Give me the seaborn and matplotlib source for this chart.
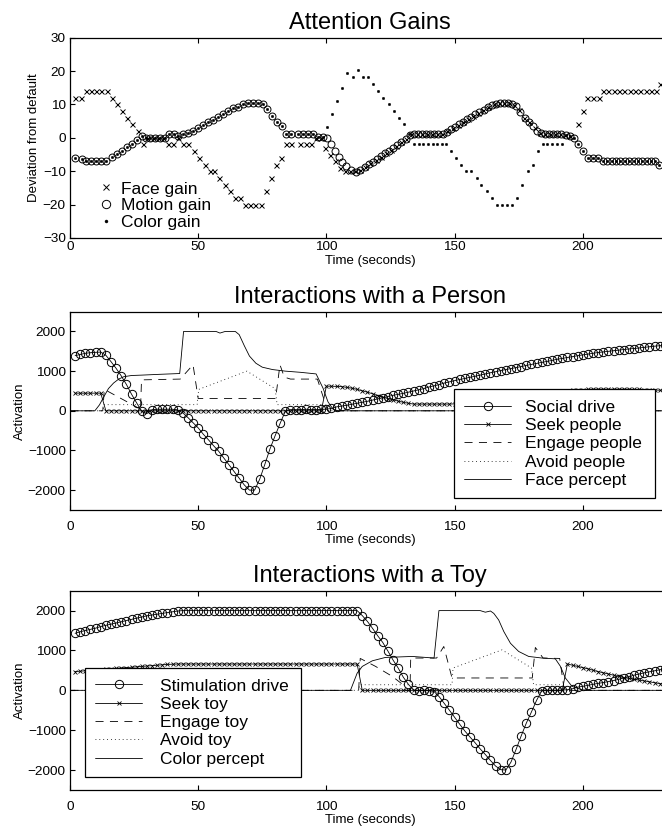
import matplotlib
matplotlib.use("Agg")
import matplotlib.pyplot as plt
import seaborn as sns

# ---------------- Attention gains (markers only) ----------------
face_t = [2.0, 4.3, 6.2, 8.2, 10.2, 12.2, 14.3, 16.4, 18.2, 20.1,
          22.3, 24.3, 26.4, 28.3, 30.2, 32.2, 34.2, 36.2, 38.3, 40.3,
          42.2, 44.2, 46.1, 48.3, 50.4, 52.6, 54.5, 56.1, 58.2, 60.4,
          62.3, 64.5, 66.5, 68.2, 70.2, 72.2, 74.4, 76.4, 78.3, 80.3,
          82.2, 84.4, 86.3, 89.6, 91.9, 93.9, 96.0, 97.9, 99.4, 101.3,
          103.3, 105.2, 107.2, 109.2, 111.2, 113.2, 115.2, 117.2, 119.2, 121.2,
          123.2, 125.2, 127.2, 129.2, 131.2, 133.2, 135.2, 137.2, 139.2, 141.2,
          143.2, 145.2, 147.2, 149.2, 151.2, 153.2, 155.2, 157.2, 159.2, 161.2,
          163.2, 165.2, 167.2, 169.2, 171.2, 173.2, 175.2, 177.2, 179.2, 181.2,
          183.2, 185.2, 187.2, 189.2, 191.2, 193.2, 195.2, 198.1, 200.1, 201.6,
          203.9, 206.2, 208.0, 210.0, 212.0, 214.2, 216.2, 218.3, 220.4, 222.5,
          224.5, 226.6, 228.6, 230.1]
face_v = [12, 12, 14, 14, 14, 14, 14, 12, 10, 8,
          6, 4, 2, -2, 0, 0, 0, 0, -2, -2,
          0, -2, -2, -4, -6, -8, -10, -10, -12, -14,
          -16, -18, -18, -20, -20, -20, -20, -16, -12, -8,
          -6, -2, -2, -2, -2, -2, 0, 0, -3, -5,
          -7, -9, -10, -10, -10, -9.6, -8.8, -7.6, -6.6, -5.6,
          -4.6, -3.6, -2.4, -1.4, -0.3, 1, 1.2, 1.2, 1.2, 1.2,
          1.2, 1.2, 2, 2.9, 3.8, 4.7, 5.6, 6.5, 7.4, 8.3,
          9.2, 10, 10.4, 10.4, 10.4, 9.9, 8.2, 6, 4.6, 2.8,
          1.4, 1.2, 1.2, 1.2, 1.2, 0.8, 0.4, 4, 8, 12,
          12, 12, 14, 14, 14, 14, 14, 14, 14, 14,
          14, 14, 14, 16]

motion_t = [1.9, 4.5, 6.2, 8.2, 10.1, 12.1, 14.0, 16.2, 18.2, 20.1,
            22.1, 24.0, 26.0, 27.9, 29.5, 31.4, 33.3, 35.2, 37.0, 38.6,
            40.4, 42.2, 44.2, 46.1, 48.0, 50.0, 52.0, 53.9, 55.8, 57.8,
            59.7, 61.7, 63.6, 65.6, 67.6, 69.5, 71.5, 73.4, 75.3, 77.0,
            78.8, 80.6, 82.5, 84.4, 86.3, 88.8, 90.8, 92.8, 94.8, 96.8,
            98.7, 100.4, 102.0, 103.4, 104.8, 106.2, 107.8, 109.8, 111.7, 113.3,
            114.9, 116.5, 118.1, 119.7, 121.3, 122.9, 124.5, 126.1, 127.7, 129.3,
            130.9, 132.5, 134.1, 135.7, 137.3, 138.9, 140.5, 142.1, 143.7, 145.3,
            146.9, 148.5, 150.1, 151.7, 153.3, 154.9, 156.5, 158.1, 159.7, 161.3,
            162.9, 164.5, 166.1, 167.7, 169.3, 170.9, 172.5, 174.1, 175.7, 177.3,
            178.9, 180.5, 182.1, 183.7, 185.3, 186.9, 188.5, 190.1, 191.7, 193.3,
            194.9, 196.5, 198.1, 200.1, 202.0, 204.0, 205.9, 207.9, 209.6, 211.3,
            213.0, 214.7, 216.4, 218.1, 219.8, 221.5, 223.2, 224.9, 226.6, 228.3,
            229.9]
motion_v = [-6, -6.3, -7, -7, -7, -7, -6.8, -5.8, -4.8, -3.8,
            -2.8, -1.8, -0.8, 0.5, 0, 0, 0, 0, 0, 1,
            1, 0.5, 1, 1.3, 2, 3, 3.8, 4.7, 5.4, 6.2,
            7, 8, 9, 9.3, 10.2, 10.3, 10.3, 10.3, 10.1, 8.5,
            6.6, 4.7, 3.4, 1.2, 1, 1, 1, 1, 1, 0.3,
            0.3, 0, -2, -4, -5.6, -7.2, -8.5, -9.5, -10.3, -9.5,
            -8.7, -7.9, -7.1, -6.3, -5.4, -4.6, -3.8, -3.0, -2.2, -1.3,
            -0.5, 0.7, 1.2, 1.2, 1.2, 1.2, 1.2, 1.2, 1.2, 1.2,
            1.8, 2.5, 3.3, 4.0, 4.8, 5.5, 6.2, 7.0, 7.6, 8.4,
            9.1, 9.8, 10.2, 10.4, 10.4, 10.4, 10.2, 9.4, 7.8, 6.0,
            4.8, 3.6, 2.0, 1.3, 1.2, 1.2, 1.2, 1.2, 1.2, 0.8,
            0.5, 0, -2, -4, -6, -6, -6, -7, -7, -7,
            -7, -7, -7, -7, -7, -7, -7, -7, -7, -7,
            -8]

color_t = [1.9, 4.5, 6.2, 8.2, 10.1, 12.1, 14.0, 16.2, 18.2, 20.1,
           22.1, 24.0, 26.0, 27.9, 29.5, 31.4, 33.3, 35.2, 37.0, 38.6,
           40.4, 42.2, 44.2, 46.1, 48.0, 50.0, 52.0, 53.9, 55.8, 57.8,
           59.7, 61.7, 63.6, 65.6, 67.6, 69.5, 71.5, 73.4, 75.3, 77.0,
           78.8, 80.6, 82.5, 84.4, 86.3, 88.8, 90.8, 92.8, 94.8, 96.8,
           98.7, 100.3, 102.1, 104.1, 106.1, 108.2, 110.3, 112.3, 114.3, 116.3,
           118.2, 120.2, 122.1, 124.3, 126.3, 128.3, 130.3, 132.3, 134.2, 136.0,
           137.8, 139.6, 141.4, 143.2, 145.0, 146.8, 148.5, 150.4, 152.4, 154.5,
           156.6, 158.6, 160.5, 162.6, 164.6, 166.5, 168.5, 170.5, 172.5, 174.4,
           176.4, 178.5, 180.4, 182.4, 184.3, 186.2, 188.1, 190.0, 191.9, 193.3,
           194.9, 196.5, 198.1, 200.1, 202.0, 204.0, 205.9, 207.9, 209.6, 211.3,
           213.0, 214.7, 216.4, 218.1, 219.8, 221.5, 223.2, 224.9, 226.6, 228.3,
           229.9]
color_v = [-6, -6.3, -7, -7, -7, -7, -6.8, -5.8, -4.8, -3.8,
           -2.8, -1.8, -0.8, 0.5, 0, 0, 0, 0, 0, 1,
           1, 0.5, 1, 1.3, 2, 3, 3.8, 4.7, 5.4, 6.2,
           7, 8, 9, 9.3, 10.2, 10.3, 10.3, 10.3, 10.1, 8.5,
           6.6, 4.7, 3.4, 1.2, 1, 1, 1, 1, 1, 0.3,
           0.3, 3.3, 7, 11, 15, 19.5, 18.3, 20.3, 18.3, 18.3,
           16, 14, 12, 10, 8, 6, 4, 1, -2, -2,
           -2, -2, -2, -2, -2, -2, -4, -6, -8, -10,
           -10, -12, -14, -16, -18, -20, -20, -20, -20, -18,
           -14, -10, -8, -4, -2, -2, -2, -2, -2, 0.8,
           0.5, 0, -2, -4, -6, -6, -6, -7, -7, -7,
           -7, -7, -7, -7, -7, -7, -7, -7, -7, -7,
           -8]

# ---------------- sample clock of the behaviour traces ----------------
clock = [2, 4, 6, 8, 10, 12, 14, 16, 18, 20, 22, 24, 26, 28, 30, 32, 34, 36, 38, 40,
         42, 44, 46, 48, 50, 52, 54, 56, 58, 60, 62, 64, 66, 68, 70, 72, 74, 76, 78, 80,
         82, 84, 86, 88, 90, 92, 94, 96, 98, 100, 102, 104, 106, 108, 110, 112, 114, 116, 118, 120,
         122, 124, 126, 128, 130, 132, 134, 136, 138, 140, 142, 144, 146, 148, 150, 152, 154, 156, 158, 160,
         162, 164, 166, 168, 170, 172, 174, 176, 178, 180, 182, 184, 186, 188, 190, 192, 194, 196, 198, 200,
         202, 204, 206, 208, 210, 212, 214, 216, 218, 220, 222, 224, 226, 228, 230, 232, 234]

# ---------------- Interactions with a person ----------------
social_drive = [1390, 1420, 1450, 1465, 1475, 1480, 1400, 1240, 1070, 880,
                665, 420, 200, -15, -70, 30, 40, 40, 40, 40,
                20, -50, -170, -300, -430, -590, -730, -880, -1020, -1190,
                -1360, -1530, -1700, -1870, -2000, -2000, -1725, -1350, -960, -630,
                -310, -10, 30, 30, 30, 40, 30, 30, 40, 40,
                60, 100, 120, 140, 165, 190, 215, 240, 270, 300,
                330, 360, 390, 415, 440, 470, 500, 530, 560, 600,
                630, 660, 700, 730, 760, 790, 815, 845, 870, 900,
                930, 960, 985, 1015, 1040, 1065, 1090, 1115, 1145, 1170,
                1195, 1220, 1245, 1270, 1300, 1320, 1345, 1365, 1390, 1410,
                1430, 1450, 1470, 1485, 1500, 1515, 1530, 1545, 1560, 1570,
                1585, 1600, 1615, 1630, 1640, 1650, 1660]
seek_people = [445, 445, 445, 445, 445, 445, 0, 0, 0, 0,
               0, 0, 0, 0, 0, 0, 0, 0, 0, 0,
               0, 0, 0, 0, 0, 0, 0, 0, 0, 0,
               0, 0, 0, 0, 0, 0, 0, 0, 0, 0,
               0, 0, 0, 0, 0, 0, 0, 0, 0, 620,
               620, 615, 610, 590, 570, 540, 505, 470, 430, 385,
               345, 310, 275, 245, 215, 190, 170, 170, 170, 170,
               170, 170, 170, 170, 175, 180, 190, 200, 210, 220,
               235, 250, 265, 280, 300, 320, 340, 360, 380, 400,
               420, 440, 455, 470, 485, 500, 510, 520, 530, 535,
               540, 545, 545, 545, 545, 545, 545, 545, 545, 540,
               540, 535, 530, 525, 520, 520, 520]
engage_people_t = [0, 12.8, 13.4, 27.0, 27.5, 27.9, 43.0, 48.0, 50.0, 80.2,
                   81.9, 83.6, 86.0, 96.5, 100.5, 234]
engage_people_v = [0, 0, 540, 60, 0, 780, 800, 1160, 310, 310,
                   1160, 850, 800, 800, 0, 0]
avoid_people_t = [0, 12.8, 13.3, 49.6, 50.2, 69.0, 80.0, 80.8, 99.0, 99.8, 234]
avoid_people_v = [0, 0, 155, 155, 540, 1000, 560, 155, 155, 0, 0]
face_percept_t = [0, 9.7, 11.5, 13.0, 15.0, 17.0, 19.0, 21.0, 24.0, 28.0,
                  35.0, 42.8, 44.3, 57.0, 58.5, 60.5, 64.5, 66.0, 68.0, 70.0,
                  72.5, 75.0, 79.0, 84.0, 90.0, 96.0, 98.7, 100.6, 102.6, 104.5,
                  234]
face_percept_v = [0, 0, 150, 330, 560, 700, 800, 860, 890, 900,
                  920, 940, 2000, 2000, 1960, 2000, 2000, 1920, 1640, 1380,
                  1200, 1100, 1040, 1000, 970, 930, 570, 230, 40, 0,
                  0]

# ---------------- Interactions with a toy ----------------
stim_drive = [1430, 1470, 1500, 1530, 1560, 1600, 1630, 1660, 1690, 1720,
              1750, 1780, 1810, 1840, 1870, 1890, 1910, 1930, 1950, 1970,
              1990, 2000, 2000, 2000, 2000, 2000, 2000, 2000, 2000, 2000,
              2000, 2000, 2000, 2000, 2000, 2000, 2000, 2000, 2000, 2000,
              2000, 2000, 2000, 2000, 2000, 2000, 2000, 2000, 2000, 2000,
              2000, 2000, 2000, 2000, 2000, 2000, 1875, 1730, 1555, 1370,
              1200, 985, 760, 560, 330, 150, 5, -10, 0, -5,
              -30, -160, -330, -500, -675, -850, -1020, -1170, -1315, -1470,
              -1610, -1760, -1900, -1990, -2000, -1800, -1480, -1140, -820, -540,
              -250, -10, 0, 0, 0, 5, 15, 40, 80, 100,
              125, 150, 175, 195, 220, 245, 275, 310, 345, 380,
              410, 440, 465, 490, 515, 535, 555]
seek_toy = [470, 480, 490, 500, 510, 520, 530, 540, 550, 560,
            570, 580, 590, 600, 610, 620, 630, 640, 650, 655,
            660, 660, 660, 660, 660, 660, 660, 660, 660, 660,
            660, 660, 660, 660, 660, 660, 660, 660, 660, 660,
            660, 660, 660, 660, 660, 660, 660, 660, 660, 660,
            660, 660, 660, 660, 660, 660, 0, 0, 0, 0,
            0, 0, 0, 0, 0, 0, 0, 0, 0, 0,
            0, 0, 0, 0, 0, 0, 0, 0, 0, 0,
            0, 0, 0, 0, 0, 0, 0, 0, 0, 0,
            0, 0, 0, 0, 0, 0, 660, 630, 600, 570,
            540, 505, 470, 440, 410, 380, 350, 320, 300, 280,
            255, 235, 215, 190, 170, 150, 135]
engage_toy_t = [0, 112.6, 113.2, 119.2, 125.7, 130.3, 130.8, 132.6, 132.9, 143.0,
                145.8, 149.0, 180.3, 181.5, 183.2, 184.5, 191.0, 192.8, 234]
engage_toy_v = [0, 0, 800, 600, 350, 120, 0, 0, 810, 810,
                1100, 310, 310, 1075, 930, 810, 800, 0, 0]
avoid_toy_t = [0, 112.6, 113.0, 149.0, 149.4, 168.5, 180.0, 180.8, 192.5, 193.2, 234]
avoid_toy_v = [0, 0, 140, 140, 560, 1015, 560, 140, 140, 0, 0]
color_percept_t = [0, 109.4, 112.0, 114.0, 117.9, 123.0, 133.5, 142.0, 143.9, 160.0,
                   162.0, 164.0, 165.3, 167.2, 169.2, 171.8, 175.0, 178.9, 184.1, 189.3,
                   191.3, 193.2, 195.8, 199.7, 202.0, 234]
color_percept_v = [0, 0, 430, 600, 740, 825, 850, 810, 2000, 2000,
                   1960, 1990, 1930, 1765, 1475, 1180, 975, 850, 810, 790,
                   600, 310, 100, 15, 0, 0]

time_ticks = [0, 50, 100, 150, 200]
gain_ticks = [-30, -20, -10, 0, 10, 20, 30]
act_ticks = [-2000, -1000, 0, 1000, 2000]

sns.set_style("ticks")
plt.rcParams['font.family'] = ['Liberation Sans', 'DejaVu Sans']
plt.rcParams['lines.scale_dashes'] = False
for key in ['text.color', 'axes.labelcolor', 'xtick.color', 'ytick.color', 'axes.edgecolor']:
    plt.rcParams[key] = 'k'

fig = plt.figure(figsize=(6.62, 8.26), dpi=100)
ax1 = fig.add_axes([0.1057, 0.7119, 0.9063, 0.2425])
ax2 = fig.add_axes([0.1057, 0.3826, 0.9063, 0.2401])
ax3 = fig.add_axes([0.1057, 0.0436, 0.9063, 0.2413])

LW = 0.6
dash = (0, (5.8, 4.6))
dot = (0, (0.6, 2.2))


def trace(ax, t, v, label, **kw):
    sns.lineplot(x=t, y=v, ax=ax, color='k', sort=False, estimator=None,
                 errorbar=None, label=label, **kw)
    return ax.get_lines()[-1]


def finish(ax, title, ylabel, yticks, ylim, ylab_x, xpad, labelpad):
    ax.set_xlim(0, 234)
    ax.set_ylim(*ylim)
    ax.set_xticks(time_ticks)
    ax.set_yticks(yticks)
    ax.tick_params(direction='in', length=3.5, width=0.8, top=True, right=True,
                   labelsize=9.7, color='k', labelcolor='k')
    ax.tick_params(axis='x', pad=xpad)
    ax.tick_params(axis='y', pad=3)
    for s in ax.spines.values():
        s.set_visible(True)
        s.set_linewidth(0.9)
        s.set_color('k')
    ax.set_title(title, fontsize=17, pad=6, color='k')
    ax.set_xlabel('Time (seconds)', fontsize=9.5, labelpad=labelpad)
    ax.set_ylabel(ylabel, fontsize=9.5)
    ax.yaxis.set_label_coords(ylab_x, 0.5)


def boxed_legend(ax, handles, anchor, textpad):
    leg = ax.legend(handles=handles, loc='upper left', bbox_to_anchor=anchor, mode='expand',
                    fontsize=12.5, handlelength=2.7, handletextpad=textpad, labelspacing=0.18,
                    borderpad=0.6, borderaxespad=0, fancybox=False, edgecolor='k',
                    framealpha=1)
    leg.get_frame().set_linewidth(0.9)
    return leg


# top panel
h1 = [
    trace(ax1, face_t, face_v, 'Face gain', linestyle='none', marker='x',
          markersize=3.6, markeredgewidth=0.7, markeredgecolor='k'),
    trace(ax1, motion_t, motion_v, 'Motion gain', linestyle='none', marker='o',
          markersize=5.0, markerfacecolor='none', markeredgewidth=0.7, markeredgecolor='k'),
    trace(ax1, color_t, color_v, 'Color gain', linestyle='none', marker='o',
          markersize=1.8, markerfacecolor='k', markeredgewidth=0.3, markeredgecolor='k'),
]
finish(ax1, 'Attention Gains', 'Deviation from default', gain_ticks, (-30, 30), -0.05, 2, 1.3)
ax1.legend(handles=h1, loc='lower left', bbox_to_anchor=(0.045, 0.04), frameon=False,
           fontsize=12.5, handlelength=1.0, handletextpad=0.4, labelspacing=0.09,
           borderpad=0, borderaxespad=0, markerscale=1.2)

# middle panel
h2 = [
    trace(ax2, clock, social_drive, 'Social drive', linewidth=LW, marker='o',
          markersize=6.0, markerfacecolor='none', markeredgewidth=0.7, markeredgecolor='k'),
    trace(ax2, clock, seek_people, 'Seek people', linewidth=LW, marker='x',
          markersize=2.8, markeredgewidth=0.6, markeredgecolor='k'),
    trace(ax2, engage_people_t, engage_people_v, 'Engage people', linewidth=LW, linestyle=dash),
    trace(ax2, avoid_people_t, avoid_people_v, 'Avoid people', linewidth=LW, linestyle=dot),
    trace(ax2, face_percept_t, face_percept_v, 'Face percept', linewidth=LW),
]
finish(ax2, 'Interactions with a Person', 'Activation', act_ticks, (-2500, 2500), -0.073, 8, 0.5)
boxed_legend(ax2, h2, (0.6395, 0.6087, 0.336, 0.0), 0.8)

# bottom panel
h3 = [
    trace(ax3, clock, stim_drive, 'Stimulation drive', linewidth=LW, marker='o',
          markersize=6.0, markerfacecolor='none', markeredgewidth=0.7, markeredgecolor='k'),
    trace(ax3, clock, seek_toy, 'Seek toy', linewidth=LW, marker='x',
          markersize=2.8, markeredgewidth=0.6, markeredgecolor='k'),
    trace(ax3, engage_toy_t, engage_toy_v, 'Engage toy', linewidth=LW, linestyle=dash),
    trace(ax3, avoid_toy_t, avoid_toy_v, 'Avoid toy', linewidth=LW, linestyle=dot),
    trace(ax3, color_percept_t, color_percept_v, 'Color percept', linewidth=LW),
]
finish(ax3, 'Interactions with a Toy', 'Activation', act_ticks, (-2500, 2500), -0.073, 8, 0.5)
boxed_legend(ax3, h3, (0.025, 0.612, 0.3605, 0.0), 1.0)

fig.savefig('out.png', dpi=100)
